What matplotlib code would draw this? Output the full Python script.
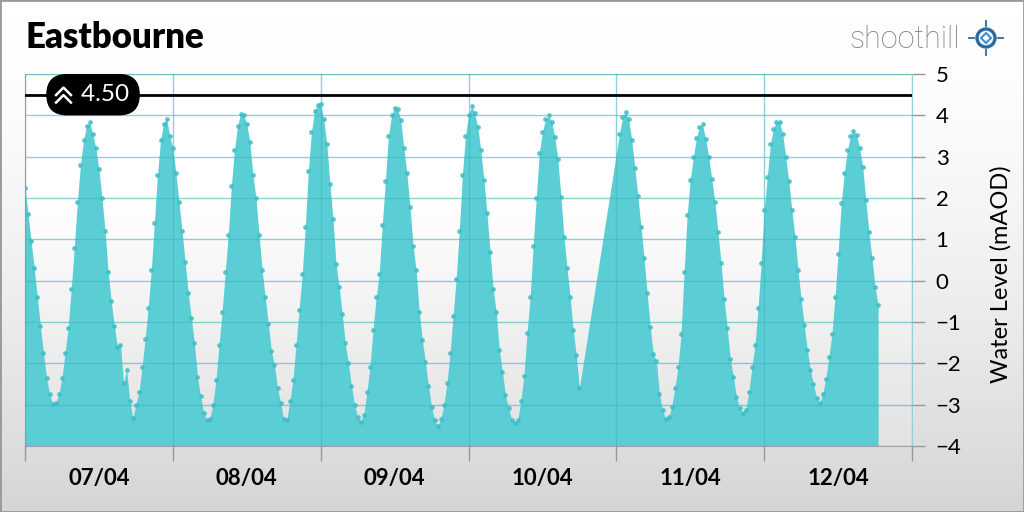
import numpy as np
import pandas as pd
import matplotlib
matplotlib.use('Agg')
import matplotlib.pyplot as plt
import matplotlib.dates as mdates
import matplotlib.transforms as mtransforms
from matplotlib.colors import LinearSegmentedColormap
from matplotlib.patches import Rectangle, Circle
from matplotlib.path import Path

plt.rcParams['font.family'] = ['Lato', 'DejaVu Sans']

station = 'Eastbourne'
threshold = 4.50
y_label = 'Water Level (mAOD)'
y_ticks = [5, 4, 3, 2, 1, 0, -1, -2, -3, -4]
x_start = '2025-04-07 00:00'
x_end = '2025-04-13 00:00'

# half-hourly readings (mAOD), each block starts at its own timestamp
start_0704 = '2025-04-07 00:00'
level_0704 = [2.25, 1.62, 0.95, 0.30, -0.40, -1.10, -1.75, -2.35, -2.75, -2.98,
              -2.95, -2.75, -2.35, -1.75, -1.15, -0.20, 0.80, 1.90, 2.80, 3.40,
              3.75, 3.83, 3.55, 3.20, 2.70, 2.00, 1.20, 0.20, -0.50, -1.10,
              -1.60, -1.55, -2.48, -2.16, -2.90, -3.33, -3.00, -2.70, -2.10, -1.40,
              -0.65, 0.25, 1.40, 2.55, 3.40, 3.80, 3.92, 3.50]

start_0804 = '2025-04-08 00:00'
level_0804 = [3.20, 2.60, 1.90, 1.20, 0.45, -0.30, -0.90, -1.52, -2.32, -2.80,
              -3.20, -3.38, -3.35, -3.00, -2.40, -1.55, -0.75, 0.20, 1.10, 2.30,
              3.15, 3.75, 4.03, 4.00, 3.80, 3.35, 2.55, 2.00, 1.10, 0.25,
              -0.40, -1.05, -1.70, -2.05, -2.60, -2.95, -3.35, -3.37, -2.90, -2.40,
              -1.55, -0.70, 0.15, 1.30, 2.65, 3.60, 4.10, 4.25]

start_0904 = '2025-04-09 00:00'
level_0904 = [4.27, 3.90, 3.30, 2.35, 1.50, 0.40, -0.15, -0.80, -1.52, -2.00,
              -2.55, -3.00, -3.30, -3.41, -3.25, -2.70, -2.08, -1.20, -0.40, 0.15,
              1.35, 2.40, 3.50, 4.00, 4.18, 4.15, 3.89, 3.20, 2.60, 1.79,
              0.85, 0.25, -0.75, -1.44, -1.96, -2.55, -3.05, -3.38, -3.52, -3.35,
              -3.00, -2.48, -1.75, -0.85, 0.05, 1.20, 2.55, 3.50]

start_1004 = '2025-04-10 00:00'
level_1004 = [4.00, 4.22, 4.05, 3.72, 3.15, 2.44, 1.63, 0.70, -0.20, -0.75,
              -1.68, -2.20, -2.77, -3.08, -3.36, -3.45, -3.36, -2.90, -2.30, -1.27,
              -0.40, 0.85, 2.00, 3.10, 3.60, 3.90, 4.00, 3.85, 3.48, 2.95,
              2.03, 1.05, 0.30, -0.39, -1.20, -1.80, -2.60]

# readings resume after the gap on the evening of 10/04
start_1104 = '2025-04-11 00:30'
level_1104 = [3.55, 3.95, 4.08, 3.90, 3.40, 2.72, 2.05, 1.30, 0.55, -0.30,
              -1.11, -1.78, -1.94, -2.75, -3.13, -3.35, -3.30, -3.05, -2.60, -2.10,
              -1.30, 0.20, 1.60, 2.44, 3.00, 3.45, 3.72, 3.78, 3.42, 3.00,
              2.45, 1.90, 1.18, 0.42, -0.45, -1.15, -1.90, -2.32, -2.81, -3.08,
              -3.21, -3.12, -2.70, -2.10, -1.56, -0.67, 0.42]

start_1204 = '2025-04-12 00:00'
level_1204 = [1.71, 2.50, 3.30, 3.68, 3.85, 3.84, 3.55, 3.00, 2.40, 1.70,
              1.06, 0.25, -0.45, -1.07, -1.68, -2.16, -2.50, -2.83, -2.97, -2.75,
              -2.38, -1.84, -1.30, -0.39, 0.65, 1.87, 2.60, 3.15, 3.50, 3.63,
              3.52, 3.20, 2.75, 1.95, 1.18, 0.55, -0.15, -0.59]

blocks = [(start_0704, level_0704), (start_0804, level_0804), (start_0904, level_0904),
          (start_1004, level_1004), (start_1104, level_1104), (start_1204, level_1204)]
idx = []
levels = []
for start, vals in blocks:
    idx.append(pd.date_range(start, periods=len(vals), freq='30min'))
    levels.extend(vals)
times = idx[0].append(idx[1:])
levels = np.array(levels)

W, H = 1024, 512
fig = plt.figure(figsize=(W / 100, H / 100), dpi=100)

# figure background gradient
bg = fig.add_axes([0, 0, 1, 1], zorder=-10)
g = np.linspace(0, 1, 256)[:, None] ** 1.6
bg.imshow(g, aspect='auto', extent=[0, 1, 0, 1],
          cmap=LinearSegmentedColormap.from_list('bg', ['#ffffff', '#d5d5d5']))
bg.axis('off')

pos = [25 / W, 66 / H, 887 / W, 372 / H]
pbg = fig.add_axes(pos, zorder=-5)
g2 = np.clip((np.linspace(0, 1, 256) - 0.35) / 0.65, 0, 1)[:, None]
pbg.imshow(g2, aspect='auto', extent=[0, 1, 0, 1],
           cmap=LinearSegmentedColormap.from_list('pb', ['#ffffff', '#e2e2e2']))
pbg.axis('off')

ax = fig.add_axes(pos)
ax.patch.set_alpha(0)

ax.fill_between(times, levels, -4, color='#5bced5', lw=0, zorder=2)
ax.plot(times, levels, 'o', ms=3.4, color='#3bbcc6', alpha=0.85, mec='none', zorder=3)

# threshold line with its label
ax.axhline(threshold, color='black', lw=2, zorder=5)
blend = mtransforms.blended_transform_factory(ax.transAxes, ax.transData)
ax.text(0.0355, threshold, '    %.2f' % threshold, transform=blend, ha='left', va='center',
        color='white', fontsize=17.5,
        bbox=dict(boxstyle='round,pad=0.42,rounding_size=0.85', fc='black', ec='none'), zorder=6)
chev = Path([(-1, -0.05), (0, 0.95), (1, -0.05), (-1, -0.95), (0, 0.05), (1, -0.95)],
            [Path.MOVETO, Path.LINETO, Path.LINETO, Path.MOVETO, Path.LINETO, Path.LINETO])
ax.plot([0.0425], [threshold], transform=blend, marker=chev, ms=12, fillstyle='none',
        mec='white', mew=1.8, ls='none', zorder=7)

ax.set_xlim(pd.Timestamp(x_start), pd.Timestamp(x_end))
ax.set_ylim(-4, 5)

ax.xaxis.set_major_locator(mdates.DayLocator())
ax.xaxis.set_major_formatter(plt.NullFormatter())
ax.xaxis.set_minor_locator(mdates.HourLocator(byhour=[12]))
ax.xaxis.set_minor_formatter(mdates.DateFormatter('%d/%m'))
ax.tick_params(axis='x', which='major', length=11, color='#999999', width=1)
ax.tick_params(axis='x', which='minor', length=0, pad=16, labelsize=16)
for t in ax.xaxis.get_minorticklabels():
    t.set_fontweight('bold')

ax.yaxis.tick_right()
ax.yaxis.set_label_position('right')
ax.set_yticks(y_ticks)
ax.tick_params(axis='y', length=9, color='#999999', width=1, labelsize=16, pad=8)
ax.set_ylabel(y_label, fontsize=17, rotation=90)
ax.yaxis.set_label_coords(1.088, 0.462)

ax.set_axisbelow(False)
ax.grid(axis='y', color='#3fb6be', alpha=0.6, lw=1, zorder=4)
ax.grid(axis='x', which='major', color='#3fb6be', alpha=0.6, lw=1, zorder=4)

for side in ['left', 'bottom']:
    ax.spines[side].set_color('#a0a0a0')
ax.spines['top'].set_color('#c8c8c8')
ax.spines['right'].set_color('#8fd3d8')

fig.text(25 / W, 1 - 38 / H, station, fontsize=25, fontweight='heavy', va='center', ha='left')

# logo
fig.text(905 / W, 1 - 40 / H, 'shoothill', fontsize=22, color='#7d7d7d', ha='center', va='center',
         family=['Roboto', 'DejaVu Sans'], fontweight='light')
lg = fig.add_axes([(986 - 20) / W, (H - 38 - 20) / H, 40 / W, 40 / H])
lg.set_xlim(-20, 20)
lg.set_ylim(-20, 20)
lg.add_patch(Circle((0, 0), 9, fill=False, ec='#2a6aa0', lw=2.4))
lg.plot([0], [0], 'D', ms=5, mfc='none', mec='#3b8fd0', mew=1.5)
for dx, dy in [(0, 1), (0, -1), (1, 0), (-1, 0)]:
    lg.plot([dx * 12, dx * 17], [dy * 12, dy * 17], color='#2a6aa0', lw=1.3)
lg.axis('off')

fig.patches.append(Rectangle((0, 0), 1, 1, transform=fig.transFigure, fill=False,
                             ec='#999999', lw=2))

fig.savefig('out.png', dpi=100)
